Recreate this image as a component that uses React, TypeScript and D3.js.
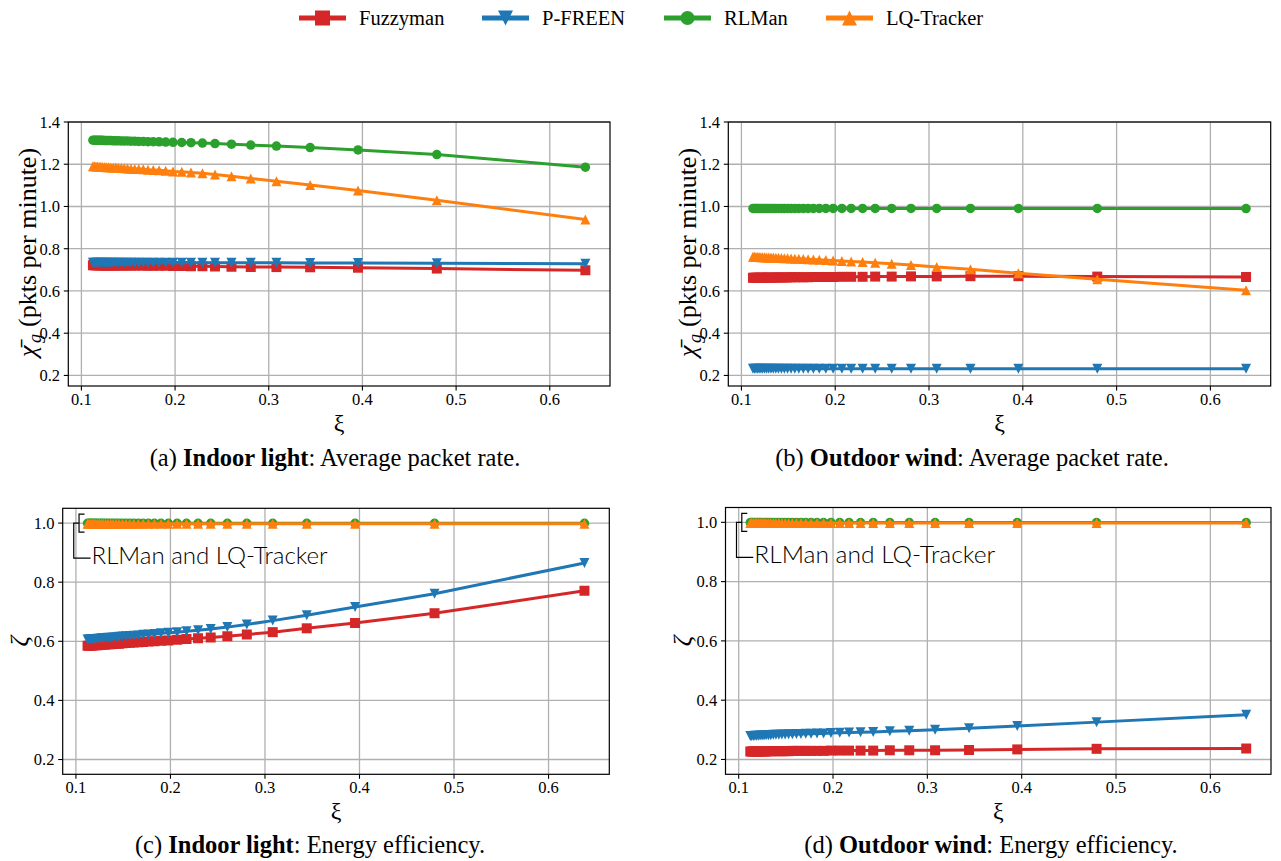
import React from "react";
import * as d3 from "d3";

// ---------- data ----------
const XI = [0.1123, 0.1138, 0.1155, 0.1172, 0.1189, 0.1208, 0.1227, 0.1248, 0.1269, 0.1291, 0.1315, 0.1340, 0.1367, 0.1395, 0.1426, 0.1458, 0.1492, 0.1529, 0.1569, 0.1612, 0.1660, 0.1711, 0.1767, 0.1830, 0.1900, 0.1978, 0.2071, 0.2170, 0.2292, 0.2426, 0.2602, 0.2808, 0.3082, 0.3442, 0.3953, 0.4794, 0.6380];

const SERIES_NAMES = ["Fuzzyman", "P-FREEN", "RLMan", "LQ-Tracker"];

// (a) Indoor light: average packet rate
const A_FUZZYMAN = [0.722, 0.722, 0.722, 0.722, 0.722, 0.722, 0.721, 0.721, 0.721, 0.721, 0.721, 0.721, 0.721, 0.721, 0.721, 0.720, 0.720, 0.720, 0.720, 0.720, 0.720, 0.719, 0.719, 0.719, 0.719, 0.718, 0.718, 0.717, 0.717, 0.716, 0.715, 0.714, 0.713, 0.712, 0.710, 0.706, 0.698];
const A_PFREEN = [0.733, 0.733, 0.733, 0.733, 0.733, 0.733, 0.733, 0.733, 0.733, 0.733, 0.733, 0.733, 0.733, 0.733, 0.733, 0.733, 0.733, 0.733, 0.733, 0.733, 0.733, 0.733, 0.733, 0.733, 0.733, 0.733, 0.733, 0.733, 0.733, 0.733, 0.733, 0.733, 0.733, 0.732, 0.732, 0.731, 0.729];
const A_RLMAN = [1.314, 1.314, 1.314, 1.313, 1.313, 1.313, 1.313, 1.312, 1.312, 1.312, 1.312, 1.311, 1.311, 1.311, 1.310, 1.310, 1.310, 1.309, 1.309, 1.308, 1.308, 1.307, 1.307, 1.306, 1.305, 1.304, 1.303, 1.302, 1.300, 1.298, 1.295, 1.291, 1.286, 1.279, 1.268, 1.246, 1.186];
const A_LQ = [1.190, 1.190, 1.189, 1.189, 1.188, 1.188, 1.187, 1.187, 1.186, 1.186, 1.185, 1.184, 1.184, 1.183, 1.182, 1.181, 1.180, 1.179, 1.178, 1.177, 1.176, 1.174, 1.173, 1.171, 1.169, 1.166, 1.164, 1.161, 1.157, 1.151, 1.143, 1.133, 1.120, 1.102, 1.076, 1.030, 0.938];

// (b) Outdoor wind: average packet rate
const B_FUZZYMAN = [0.663, 0.663, 0.663, 0.663, 0.663, 0.663, 0.663, 0.663, 0.663, 0.663, 0.663, 0.663, 0.664, 0.664, 0.664, 0.664, 0.664, 0.665, 0.665, 0.665, 0.665, 0.665, 0.666, 0.666, 0.666, 0.666, 0.667, 0.667, 0.667, 0.668, 0.668, 0.669, 0.669, 0.670, 0.670, 0.668, 0.666];
const B_PFREEN = [0.232, 0.232, 0.232, 0.232, 0.232, 0.232, 0.232, 0.232, 0.232, 0.232, 0.232, 0.232, 0.232, 0.232, 0.232, 0.232, 0.232, 0.232, 0.232, 0.232, 0.232, 0.232, 0.232, 0.232, 0.232, 0.232, 0.232, 0.232, 0.232, 0.232, 0.232, 0.232, 0.232, 0.232, 0.232, 0.232, 0.232];
const B_RLMAN = [0.991, 0.991, 0.991, 0.991, 0.991, 0.991, 0.991, 0.991, 0.991, 0.991, 0.991, 0.991, 0.991, 0.991, 0.991, 0.991, 0.991, 0.991, 0.991, 0.991, 0.991, 0.991, 0.991, 0.991, 0.991, 0.991, 0.991, 0.991, 0.991, 0.991, 0.991, 0.991, 0.991, 0.991, 0.991, 0.991, 0.990];
const B_LQ = [0.762, 0.762, 0.761, 0.761, 0.761, 0.760, 0.760, 0.760, 0.759, 0.759, 0.758, 0.758, 0.757, 0.757, 0.756, 0.755, 0.755, 0.754, 0.753, 0.752, 0.751, 0.750, 0.749, 0.748, 0.746, 0.744, 0.742, 0.740, 0.737, 0.734, 0.729, 0.723, 0.714, 0.703, 0.684, 0.655, 0.603];

// (c) Indoor light: energy efficiency
const C_FUZZYMAN = [0.585, 0.585, 0.586, 0.586, 0.587, 0.587, 0.587, 0.588, 0.588, 0.589, 0.589, 0.590, 0.590, 0.591, 0.592, 0.592, 0.593, 0.594, 0.595, 0.596, 0.597, 0.598, 0.599, 0.600, 0.602, 0.603, 0.605, 0.608, 0.610, 0.613, 0.617, 0.623, 0.631, 0.644, 0.662, 0.695, 0.771];
const C_PFREEN = [0.606, 0.606, 0.607, 0.607, 0.608, 0.608, 0.609, 0.609, 0.610, 0.610, 0.611, 0.612, 0.612, 0.613, 0.614, 0.615, 0.616, 0.617, 0.618, 0.619, 0.620, 0.622, 0.623, 0.625, 0.627, 0.629, 0.631, 0.634, 0.637, 0.642, 0.648, 0.657, 0.670, 0.688, 0.716, 0.761, 0.865];
const C_RLMAN = [0.999, 0.999, 0.999, 0.999, 0.999, 0.999, 0.999, 0.999, 0.999, 0.999, 0.999, 0.999, 0.999, 0.999, 0.999, 0.999, 0.999, 0.999, 0.999, 0.999, 0.999, 0.999, 0.999, 0.999, 0.999, 0.999, 0.999, 0.999, 0.999, 0.999, 0.999, 0.999, 0.999, 0.999, 0.999, 0.999, 0.999];
const C_LQ = [0.998, 0.998, 0.998, 0.998, 0.998, 0.998, 0.998, 0.998, 0.998, 0.998, 0.998, 0.998, 0.998, 0.998, 0.998, 0.998, 0.998, 0.998, 0.998, 0.998, 0.998, 0.998, 0.998, 0.998, 0.998, 0.998, 0.998, 0.998, 0.998, 0.998, 0.998, 0.998, 0.998, 0.998, 0.998, 0.998, 0.998];

// (d) Outdoor wind: energy efficiency
const D_FUZZYMAN = [0.227, 0.227, 0.227, 0.227, 0.227, 0.227, 0.227, 0.227, 0.227, 0.227, 0.228, 0.228, 0.228, 0.228, 0.228, 0.228, 0.228, 0.228, 0.229, 0.229, 0.229, 0.229, 0.229, 0.229, 0.229, 0.230, 0.230, 0.230, 0.230, 0.230, 0.231, 0.231, 0.231, 0.232, 0.234, 0.236, 0.237];
const D_PFREEN = [0.279, 0.279, 0.279, 0.280, 0.280, 0.280, 0.281, 0.281, 0.281, 0.282, 0.282, 0.282, 0.283, 0.283, 0.283, 0.284, 0.284, 0.285, 0.285, 0.286, 0.286, 0.287, 0.287, 0.288, 0.288, 0.289, 0.290, 0.291, 0.292, 0.293, 0.295, 0.297, 0.300, 0.305, 0.313, 0.326, 0.351];
const D_RLMAN = [0.999, 0.999, 0.999, 0.999, 0.999, 0.999, 0.999, 0.999, 0.999, 0.999, 0.999, 0.999, 0.999, 0.999, 0.999, 0.999, 0.999, 0.999, 0.999, 0.999, 0.999, 0.999, 0.999, 0.999, 0.999, 0.999, 0.999, 0.999, 0.999, 0.999, 0.999, 0.999, 0.999, 0.999, 0.999, 0.999, 0.999];
const D_LQ = [0.998, 0.998, 0.998, 0.998, 0.998, 0.998, 0.998, 0.998, 0.998, 0.998, 0.998, 0.998, 0.998, 0.998, 0.998, 0.998, 0.998, 0.998, 0.998, 0.998, 0.998, 0.998, 0.998, 0.998, 0.998, 0.998, 0.998, 0.998, 0.998, 0.998, 0.998, 0.998, 0.998, 0.998, 0.998, 0.998, 0.998];

const X_TICKS = [0.1, 0.2, 0.3, 0.4, 0.5, 0.6];
const Y_TICKS_RATE = [0.2, 0.4, 0.6, 0.8, 1.0, 1.2, 1.4];
const Y_TICKS_EFF = [0.2, 0.4, 0.6, 0.8, 1.0];
const ANNOTATION_TEXT = "RLMan and LQ-Tracker";
const RATE_LABEL_SYMBOL = "χ̄";
const RATE_LABEL_SUB = "g";
const RATE_LABEL_UNIT = "(pkts per minute)";

// ---------- styles ----------
const COLORS = ["#d62728", "#1f77b4", "#2ca02c", "#ff7f0e"];
const MARKERS = ["square", "tridown", "circle", "triup"];
const SERIF = "'Liberation Serif', 'Times New Roman', serif";

function Marker({ type, x, y, s, color }: { type: string; x: number; y: number; s: number; color: string }) {
  const h = s / 2;
  if (type === "circle") return <circle cx={x} cy={y} r={h} fill={color} />;
  let d = "";
  if (type === "square") d = `M${x - h},${y - h}H${x + h}V${y + h}H${x - h}Z`;
  if (type === "tridown") d = `M${x},${y + h}L${x - h},${y - h}L${x + h},${y - h}Z`;
  if (type === "triup") d = `M${x},${y - h}L${x - h},${y + h}L${x + h},${y + h}Z`;
  return <path d={d} fill={color} />;
}

type PanelProps = {
  box: { L: number; R: number; T: number; B: number };
  yDomain: [number, number];
  yTicks: number[];
  data: number[][];
  ylabel: "rate" | "eff";
  ylabelX: number;
  caption: { label: string; bold: string; rest: string; x: number; y: number };
  annotation?: { textLen: number };
};

function Panel({ box, yDomain, yTicks, data, ylabel, ylabelX, caption, annotation }: PanelProps) {
  const [xmin, xmax] = d3.extent(XI) as [number, number];
  const pad = (xmax - xmin) * 0.05;
  const x = d3.scaleLinear().domain([xmin - pad, xmax + pad]).range([box.L, box.R]);
  const y = d3.scaleLinear().domain(yDomain).range([box.B, box.T]);
  const line = d3.line<number>().x((_, i) => x(XI[i])).y((v) => y(v));
  const cx = (box.L + box.R) / 2;
  const cy = (box.T + box.B) / 2;
  const clipId = `clip-${Math.round(box.L)}-${Math.round(box.T)}`;
  return (
    <g>
      <defs>
        <clipPath id={clipId}>
          <rect x={box.L - 8} y={box.T - 8} width={box.R - box.L + 16} height={box.B - box.T + 16} />
        </clipPath>
      </defs>
      {/* grid */}
      {X_TICKS.map((t) => (
        <line key={"gx" + t} x1={x(t)} x2={x(t)} y1={box.T} y2={box.B} stroke="#b0b0b0" strokeWidth={1.3} />
      ))}
      {yTicks.map((t) => (
        <line key={"gy" + t} x1={box.L} x2={box.R} y1={y(t)} y2={y(t)} stroke="#b0b0b0" strokeWidth={1.3} />
      ))}
      {/* series */}
      <g clipPath={`url(#${clipId})`}>
        {data.map((vals, si) => (
          <g key={si}>
            <path d={line(vals) || ""} fill="none" stroke={COLORS[si]} strokeWidth={3} strokeLinejoin="round" />
            {vals.map((v, i) => (
              <Marker key={i} type={MARKERS[si]} x={x(XI[i])} y={y(v)} s={si === 2 ? 9.5 : 10} color={COLORS[si]} />
            ))}
          </g>
        ))}
      </g>
      {/* spines */}
      <rect x={box.L} y={box.T} width={box.R - box.L} height={box.B - box.T} fill="none" stroke="#000" strokeWidth={1.2} />
      {/* ticks */}
      {X_TICKS.map((t) => (
        <g key={"tx" + t}>
          <line x1={x(t)} x2={x(t)} y1={box.B} y2={box.B + 4.5} stroke="#000" strokeWidth={1.1} />
          <text x={x(t)} y={box.B + 19} textAnchor="middle" fontFamily={SERIF} fontSize={16.5} fill="#000">
            {d3.format(".1f")(t)}
          </text>
        </g>
      ))}
      {yTicks.map((t) => (
        <g key={"ty" + t}>
          <line x1={box.L - 4.5} x2={box.L} y1={y(t)} y2={y(t)} stroke="#000" strokeWidth={1.1} />
          <text x={box.L - 8.3} y={y(t) + 5.8} textAnchor="end" fontFamily={SERIF} fontSize={16.5} fill="#000">
            {d3.format(".1f")(t)}
          </text>
        </g>
      ))}
      {/* axis labels */}
      <text x={cx} y={box.B + 45} textAnchor="middle" fontFamily={SERIF} fontSize={24} fill="#000">
        ξ
      </text>
      {ylabel === "rate" ? (
        <g transform={`translate(${ylabelX},${cy}) rotate(-90)`} fill="#000" fontFamily={SERIF}>
          <text x={-103} y={0} fontSize={26} fontStyle="italic">{RATE_LABEL_SYMBOL}</text>
          <text x={-89} y={5} fontSize={18} fontStyle="italic">{RATE_LABEL_SUB}</text>
          <text x={-73} y={0} fontSize={26}>{RATE_LABEL_UNIT}</text>
        </g>
      ) : (
        <text transform={`translate(${ylabelX},${cy}) rotate(-90)`} textAnchor="middle" fontFamily={SERIF} fontStyle="italic" fontSize={26} fill="#000">
          ζ
        </text>
      )}
      {/* annotation */}
      {annotation && (() => {
        const x0 = x(XI[0]);
        const y1 = y(1.0);
        return (
          <g fill="none" stroke="#000" strokeWidth={1.2}>
            <path d={`M${x0 - 3},${y1 - 9}H${x0 - 8.5}V${y1 + 9}H${x0 - 3}`} />
            <path d={`M${x0 - 8.5},${y1}H${x0 - 13.8}V${y1 + 35}H${x0 + 3}`} />
            <text x={x0 + 4} y={y1 + 41} fill="#000" stroke="none" fontFamily="Lato, 'DejaVu Sans', sans-serif" fontWeight={300} fontSize={23} textLength={annotation.textLen} lengthAdjust="spacingAndGlyphs">
              {ANNOTATION_TEXT}
            </text>
          </g>
        );
      })()}
      {/* caption */}
      <text x={caption.x} y={caption.y} textAnchor="middle" fontFamily={SERIF} fontSize={24.5} fill="#000">
        <tspan>{caption.label} </tspan>
        <tspan fontWeight="bold">{caption.bold}</tspan>
        <tspan>{caption.rest}</tspan>
      </text>
    </g>
  );
}

function Legend() {
  const starts = [299, 482, 664, 826];
  const yc = 18;
  return (
    <g>
      {SERIES_NAMES.map((name, i) => (
        <g key={name}>
          <line x1={starts[i]} x2={starts[i] + 47} y1={yc} y2={yc} stroke={COLORS[i]} strokeWidth={5} />
          <Marker type={MARKERS[i]} x={starts[i] + 23.5} y={yc} s={i === 2 ? 14 : 15} color={COLORS[i]} />
          <text x={starts[i] + 60} y={yc + 7} fontFamily={SERIF} fontSize={20.5} fill="#000">
            {name}
          </text>
        </g>
      ))}
    </g>
  );
}

export default function App() {
  return (
    <svg width={1281} height={861} style={{ position: "absolute", left: 0, top: 0, display: "block", background: "#fff" }}>
      <rect width={1281} height={861} fill="#fff" />
      <Legend />
      <Panel
        box={{ L: 68.3, R: 610, T: 122, B: 386 }}
        yDomain={[0.15, 1.4]}
        yTicks={Y_TICKS_RATE}
        data={[A_FUZZYMAN, A_PFREEN, A_RLMAN, A_LQ]}
        ylabel="rate"
        ylabelX={36}
        caption={{ label: "(a)", bold: "Indoor light", rest: ": Average packet rate.", x: 335, y: 466 }}
      />
      <Panel
        box={{ L: 728.3, R: 1270.7, T: 122, B: 386 }}
        yDomain={[0.15, 1.4]}
        yTicks={Y_TICKS_RATE}
        data={[B_FUZZYMAN, B_PFREEN, B_RLMAN, B_LQ]}
        ylabel="rate"
        ylabelX={696}
        caption={{ label: "(b)", bold: "Outdoor wind", rest: ": Average packet rate.", x: 972, y: 466 }}
      />
      <Panel
        box={{ L: 62.7, R: 609.3, T: 508.3, B: 774.3 }}
        yDomain={[0.15, 1.05]}
        yTicks={Y_TICKS_EFF}
        data={[C_FUZZYMAN, C_PFREEN, C_RLMAN, C_LQ]}
        ylabel="eff"
        ylabelX={28}
        caption={{ label: "(c)", bold: "Indoor light", rest: ": Energy efficiency.", x: 310, y: 853 }}
        annotation={{ textLen: 236 }}
      />
      <Panel
        box={{ L: 725.5, R: 1271, T: 507.5, B: 774.3 }}
        yDomain={[0.15, 1.05]}
        yTicks={Y_TICKS_EFF}
        data={[D_FUZZYMAN, D_PFREEN, D_RLMAN, D_LQ]}
        ylabel="eff"
        ylabelX={691}
        caption={{ label: "(d)", bold: "Outdoor wind", rest: ": Energy efficiency.", x: 991, y: 853 }}
        annotation={{ textLen: 241 }}
      />
    </svg>
  );
}
